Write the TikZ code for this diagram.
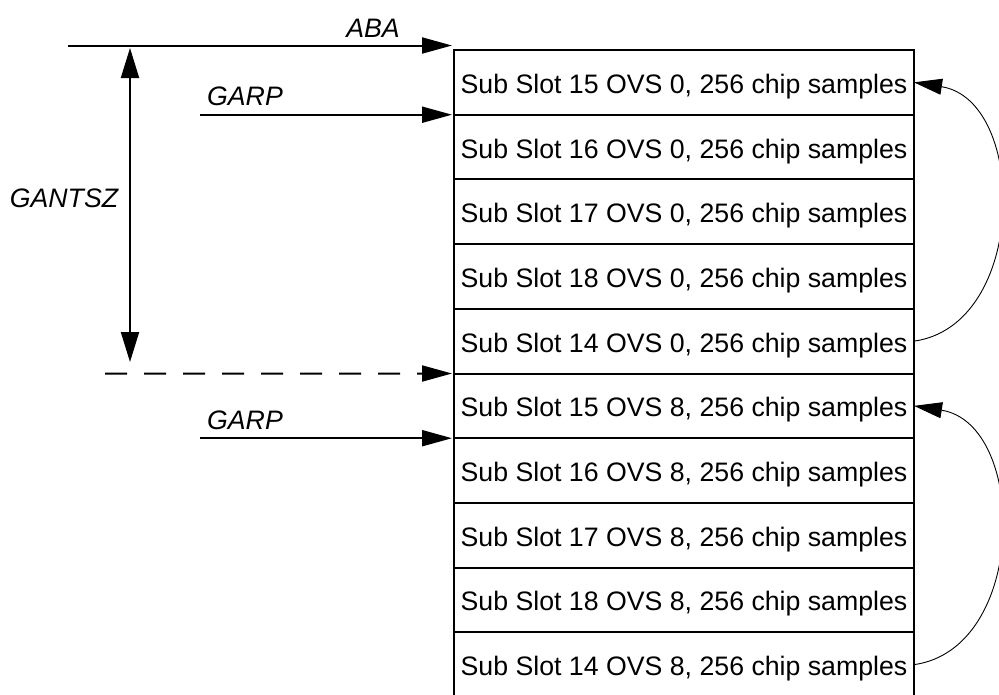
\documentclass[tikz,border=0pt]{standalone}
\usepackage{fontspec}
\setmainfont{Liberation Sans}
\usetikzlibrary{arrows.meta}
\begin{document}
\begin{tikzpicture}[x=1pt,y=-1pt,
  row/.style={draw, line width=2pt, minimum width=460pt, minimum height=64.7pt,
    inner sep=0pt, outer sep=0pt, text height=22pt, text depth=0pt,
    font=\fontsize{26.7}{32}\selectfont},
  lbl/.style={anchor=base, inner sep=0pt, font=\fontsize{26.7}{32}\selectfont\itshape},
  arr/.style={line width=2pt, -{Triangle[length=30pt,width=16pt]}},
  dblarr/.style={line width=2pt, {Triangle[length=30pt,width=18pt]}-{Triangle[length=30pt,width=18pt]}},
  looparr/.style={line width=0.9pt, -{Triangle[length=28pt,width=16pt]}}]
\useasboundingbox (0,0) rectangle (999,694);
\clip (0,0) rectangle (999,694);

% rows
\node[row] (r1)  at (684, 82.35)  {Sub Slot 15 OVS 0, 256 chip samples};
\node[row] (r2)  at (684, 147.05) {Sub Slot 16 OVS 0, 256 chip samples};
\node[row] (r3)  at (684, 211.75) {Sub Slot 17 OVS 0, 256 chip samples};
\node[row] (r4)  at (684, 276.45) {Sub Slot 18 OVS 0, 256 chip samples};
\node[row] (r5)  at (684, 341.15) {Sub Slot 14 OVS 0, 256 chip samples};
\node[row] (r6)  at (684, 405.85) {Sub Slot 15 OVS 8, 256 chip samples};
\node[row] (r7)  at (684, 470.55) {Sub Slot 16 OVS 8, 256 chip samples};
\node[row] (r8)  at (684, 535.25) {Sub Slot 17 OVS 8, 256 chip samples};
\node[row] (r9)  at (684, 599.95) {Sub Slot 18 OVS 8, 256 chip samples};
\node[row] (r10) at (684, 664.65) {Sub Slot 14 OVS 8, 256 chip samples};

% labels
\node[lbl] (aba)   at (373, 37)  {ABA};
\node[lbl] (garp1) at (245, 105) {GARP};
\node[lbl] (gantsz) at (64, 207) {GANTSZ};
\node[lbl] (garp2) at (245, 429) {GARP};

% free ends
\coordinate (abaS) at (68, 45.5);
\coordinate (g1S)  at (200, 114.7);
\coordinate (dS)   at (105, 373.5);
\coordinate (g2S)  at (200, 438.2);
\coordinate (vT)   at (130, 48);
\coordinate (vB)   at (130, 362);

% connectors
\draw[arr] (abaS) -- ([xshift=-2pt,yshift=4.5pt]r1.north west);
\draw[arr] (g1S) -- ([xshift=-2pt]r1.south west);
\draw[arr, dash pattern=on 22pt off 17pt] (dS) -- ([xshift=-2pt]r5.south west);
\draw[arr] (g2S) -- ([xshift=-2pt]r6.south west);
\draw[dblarr] (vT) -- (vB);

\draw[looparr] (r5.east) .. controls +(114,-16) and +(114,18) .. (r1.east);
\draw[looparr] (r10.east) .. controls +(114,-16) and +(114,18) .. (r6.east);
\end{tikzpicture}
\end{document}
